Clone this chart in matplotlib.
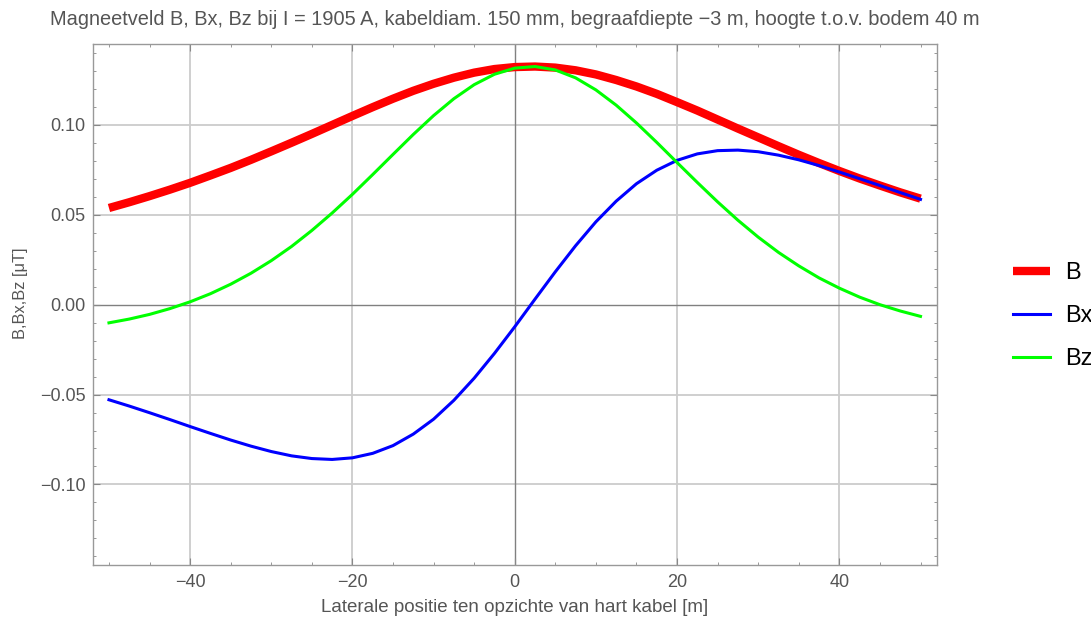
import matplotlib.pyplot as plt
from matplotlib.ticker import MultipleLocator, FuncFormatter

# Lateral position [m]
x = [-50, -47.5, -45, -42.5, -40, -37.5, -35, -32.5, -30, -27.5,
     -25, -22.5, -20, -17.5, -15, -12.5, -10, -7.5, -5, -2.5,
     0, 2.5, 5, 7.5, 10, 12.5, 15, 17.5, 20, 22.5,
     25, 27.5, 30, 32.5, 35, 37.5, 40, 42.5, 45, 47.5, 50]

# Field values [uT]
B = [0.0538, 0.0570, 0.0604, 0.0640, 0.0678, 0.0719, 0.0761, 0.0806, 0.0853, 0.0901,
     0.0950, 0.1000, 0.1050, 0.1099, 0.1146, 0.1190, 0.1229, 0.1263, 0.1291, 0.1311,
     0.1322, 0.1325, 0.1319, 0.1304, 0.1281, 0.1250, 0.1214, 0.1173, 0.1127, 0.1080,
     0.1030, 0.0980, 0.0931, 0.0882, 0.0834, 0.0788, 0.0744, 0.0702, 0.0663, 0.0625, 0.0590]

Bx = [-0.0529, -0.0564, -0.0601, -0.0639, -0.0678, -0.0716, -0.0753, -0.0787, -0.0817, -0.0841,
      -0.0856, -0.0861, -0.0852, -0.0827, -0.0784, -0.0720, -0.0637, -0.0532, -0.0409, -0.0271,
      -0.0123, 0.0031, 0.0183, 0.0328, 0.0461, 0.0576, 0.0673, 0.0748, 0.0803, 0.0839,
      0.0857, 0.0860, 0.0851, 0.0832, 0.0806, 0.0774, 0.0738, 0.0701, 0.0663, 0.0624, 0.0586]

Bz = [-0.0101, -0.0080, -0.0054, -0.0022, 0.0016, 0.0061, 0.0114, 0.0175, 0.0245, 0.0324,
      0.0413, 0.0510, 0.0614, 0.0724, 0.0836, 0.0947, 0.1052, 0.1146, 0.1224, 0.1282,
      0.1316, 0.1325, 0.1306, 0.1262, 0.1195, 0.1110, 0.1011, 0.0903, 0.0791, 0.0680,
      0.0572, 0.0470, 0.0376, 0.0291, 0.0216, 0.0149, 0.0092, 0.0042, 0.0000, -0.0035, -0.0065]

plt.rcParams['font.family'] = ['Liberation Sans', 'DejaVu Sans']

fig = plt.figure(figsize=(10.91, 6.25), dpi=100)
ax = fig.add_axes([0.085, 0.0955, 0.7736, 0.834])

grid_col = '#cccccc'
for gx in [-40, -20, 20, 40]:
    ax.axvline(gx, color=grid_col, lw=1.3, zorder=0)
for gy in [-0.10, -0.05, 0.05, 0.10]:
    ax.axhline(gy, color=grid_col, lw=1.3, zorder=0)
ax.axvline(0, color='#808080', lw=1.0, zorder=1)
ax.axhline(0, color='#808080', lw=1.0, zorder=1)

ax.plot(x, B, color='#ff0000', lw=6, label='B', zorder=2, solid_capstyle='butt')
ax.plot(x, Bx, color='#0000ff', lw=2.2, label='Bx', zorder=3)
ax.plot(x, Bz, color='#00ff00', lw=2.2, label='Bz', zorder=4)

ax.set_xlim(-52, 52)
ax.set_ylim(-0.145, 0.145)

ax.xaxis.set_major_locator(MultipleLocator(20))
ax.xaxis.set_minor_locator(MultipleLocator(5))
ax.yaxis.set_major_locator(MultipleLocator(0.05))
ax.yaxis.set_minor_locator(MultipleLocator(0.01))
ax.yaxis.set_major_formatter(FuncFormatter(lambda v, p: f"{v:.2f}".replace('-', '\u2212')))
ax.xaxis.set_major_formatter(FuncFormatter(lambda v, p: f"{v:.0f}".replace('-', '\u2212')))

ax.tick_params(which='both', direction='in', top=True, right=True,
               color='#888888', labelcolor='#555555', labelsize=13)
ax.tick_params(which='major', length=5, width=0.8)
ax.tick_params(which='minor', length=2.5, width=0.6)
ax.tick_params(axis='x', pad=6)
ax.tick_params(axis='y', pad=5)
for s in ax.spines.values():
    s.set_color('#999999')
    s.set_linewidth(1.0)

ax.set_title('Magneetveld B, Bx, Bz bij I = 1905 A, kabeldiam. 150 mm, begraafdiepte \u22123 m, hoogte t.o.v. bodem 40 m',
             color='#555555', fontsize=14.45, pad=14)
ax.set_xlabel('Laterale positie ten opzichte van hart kabel [m]', color='#555555', fontsize=13.5, labelpad=6)
ax.set_ylabel('B,Bx,Bz [\u03bcT]', color='#555555', fontsize=11.8)
ax.yaxis.set_label_coords(-0.077, 0.522)

ax.legend(loc='center left', bbox_to_anchor=(1.065, 0.478), frameon=False,
          fontsize=17, handlelength=1.57, handletextpad=0.64, labelspacing=0.88)

fig.savefig('out.png', dpi=100)
